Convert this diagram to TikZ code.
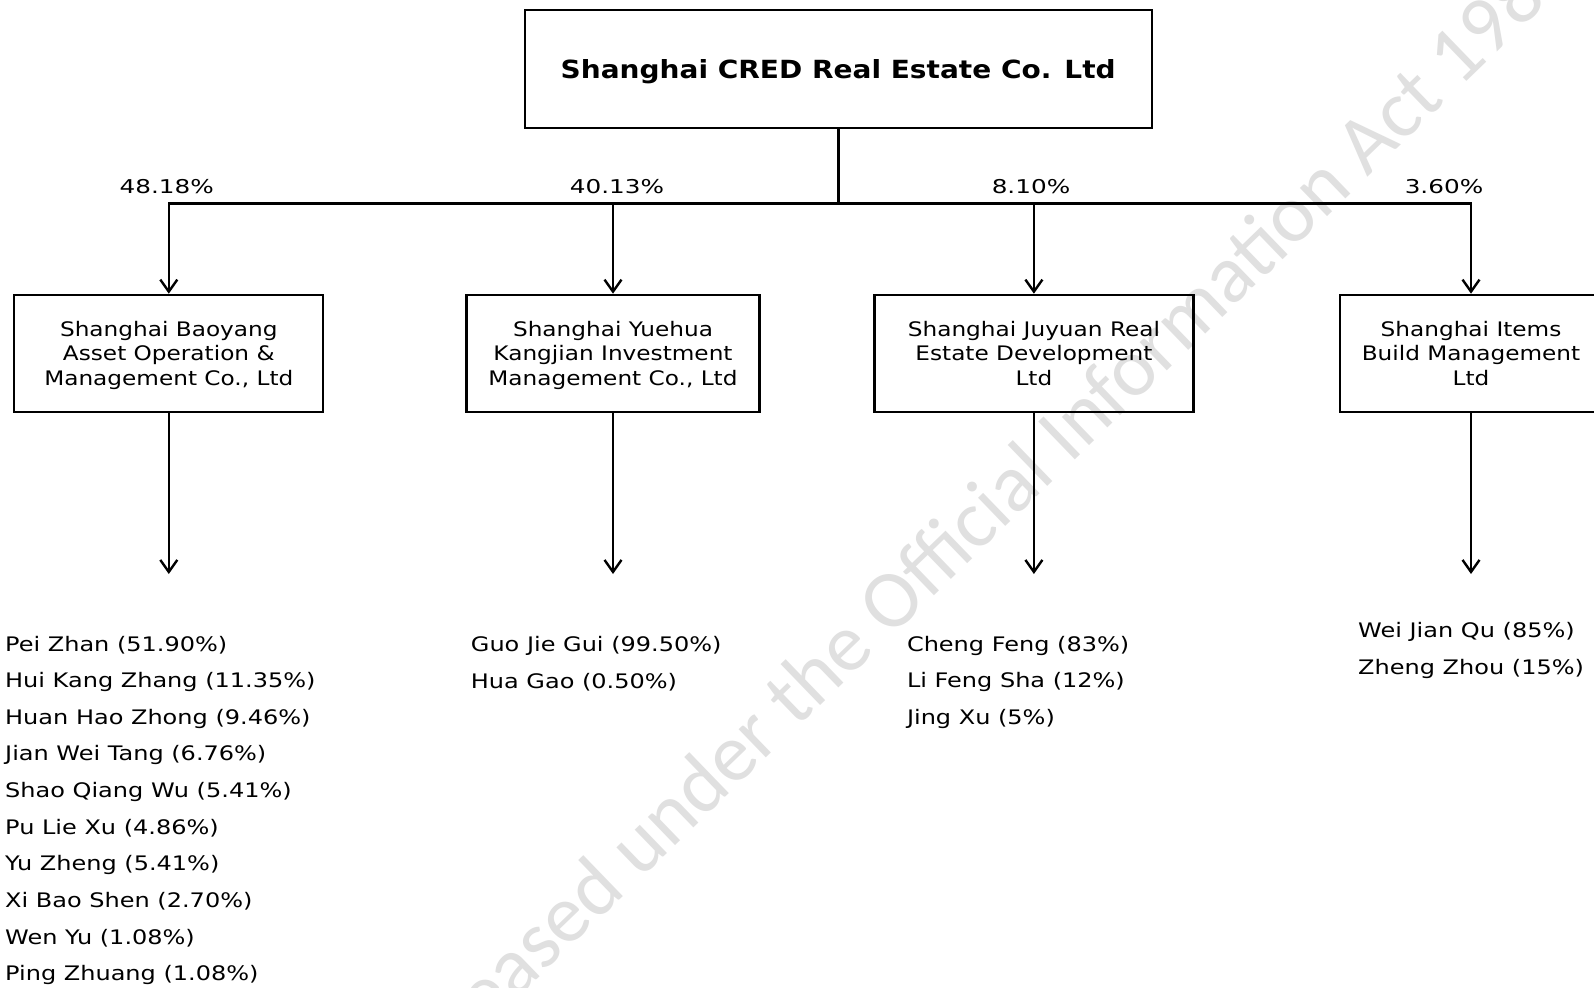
\documentclass[tikz,border=0pt]{standalone}
\usepackage{fontspec}
\setmainfont{DejaVu Sans}
\newfontfamily\boxfont[FakeStretch=1.16]{DejaVu Sans}
\newfontfamily\listfont[FakeStretch=1.2]{DejaVu Sans}
\newfontfamily\pctfont[FakeStretch=1.3]{DejaVu Sans}
\newfontfamily\ttlfont[FakeStretch=1.12]{DejaVu Sans}
\newfontfamily\wmfont{Carlito}
\usetikzlibrary{arrows.meta}
\begin{document}
\begin{tikzpicture}[x=1pt,y=-1pt,
  box/.style={draw, line width=2.2pt, minimum height=117pt, inner sep=0pt, align=center,
    font=\boxfont\fontsize{20}{24.4}\selectfont},
  topbox/.style={draw, line width=2.2pt, minimum width=627pt, minimum height=118pt, inner sep=0pt,
    font=\ttlfont\bfseries\fontsize{25}{30}\selectfont},
  conn/.style={line width=2.6pt},
  tip/.tip={Straight Barb[length=12pt,width=17pt,line width=2.4pt]},
  arr/.style={conn, -tip},
  pct/.style={inner sep=0pt, font=\pctfont\fontsize{19}{23}\selectfont},
  item/.style={anchor=west, inner sep=0pt, font=\listfont\fontsize{20}{24}\selectfont},
  wm/.style={inner sep=0pt, text=black!12, font=\wmfont\fontsize{82}{90}\selectfont}
]
\clip (0,0) rectangle (1594,987);
\fill[white] (0,0) rectangle (1594,987);

% watermark
\node[wm, rotate=44, anchor=base west] (wm) at (412,1100) {Released under the Official Information Act 1982};

% boxes
\node[topbox] (top) at (838.2,69.2) {\raisebox{-3pt}[\height][\depth]{Shanghai CRED Real Estate Co. Ltd}};
\node[box, minimum width=309pt] (b1) at (168.8,353.3) {Shanghai Baoyang\\Asset Operation \&\\\raisebox{0pt}[\height][0pt]{Management Co., Ltd}};
\node[box, minimum width=293pt] (b2) at (613,353.3) {Shanghai Yuehua\\Kangjian Investment\\\raisebox{0pt}[\height][0pt]{Management Co., Ltd}};
\node[box, minimum width=319pt] (b3) at (1033.9,353.3) {Shanghai Juyuan Real\\Estate Development\\Ltd};
\node[box, minimum width=262pt] (b4) at (1471,353.3) {Shanghai Items\\Build Management\\Ltd};

% connectors
\coordinate (j) at (838.2,203.3);
\draw[conn] (top.south) -- (j);
\draw[conn, tip-tip] (b1.north) -- (b1.north |- j) -- (b4.north |- j) -- (b4.north);
\draw[arr] (b2.north |- j) -- (b2.north);
\draw[arr] (b3.north |- j) -- (b3.north);

% percentages
\node[pct] (p1) at (166.7,187) {48.18\%};
\node[pct] (p2) at (617,187) {40.13\%};
\node[pct] (p3) at (1031,187) {8.10\%};
\node[pct] (p4) at (1444,187) {3.60\%};

% down arrows
\coordinate (e1) at (168.8,574);
\coordinate (e2) at (613,574);
\coordinate (e3) at (1033.9,574);
\coordinate (e4) at (1471,574);
\draw[arr] (b1.south) -- (e1);
\draw[arr] (b2.south) -- (e2);
\draw[arr] (b3.south) -- (e3);
\draw[arr] (b4.south) -- (e4);

% shareholder lists
\foreach \t [count=\i] in {Pei Zhan (51.90\%), Hui Kang Zhang (11.35\%), Huan Hao Zhong (9.46\%),
  Jian Wei Tang (6.76\%), Shao Qiang Wu (5.41\%), Pu Lie Xu (4.86\%), Yu Zheng (5.41\%),
  Xi Bao Shen (2.70\%), Wen Yu (1.08\%), Ping Zhuang (1.08\%)}
  \node[item] (a\i) at (5,{645.5+36.6*(\i-1)}) {\t};
\foreach \t [count=\i] in {Guo Jie Gui (99.50\%), Hua Gao (0.50\%)}
  \node[item] (c\i) at (470.7,{645.5+36.6*(\i-1)}) {\t};
\foreach \t [count=\i] in {Cheng Feng (83\%), Li Feng Sha (12\%), Jing Xu (5\%)}
  \node[item] (d\i) at (906.8,{645.5+36.6*(\i-1)}) {\t};
\foreach \t [count=\i] in {Wei Jian Qu (85\%), Zheng Zhou (15\%)}
  \node[item] (f\i) at (1358,{632.3+36.6*(\i-1)}) {\t};
\end{tikzpicture}
\end{document}
